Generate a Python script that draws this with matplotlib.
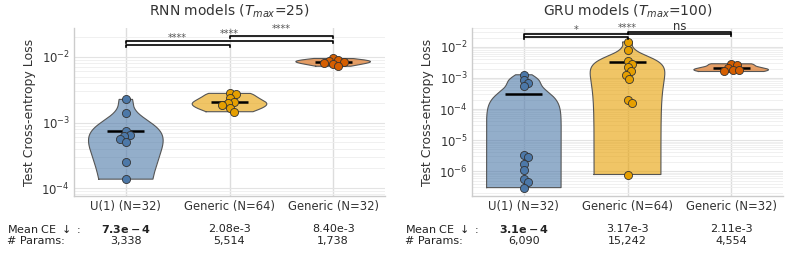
import numpy as np
import matplotlib
matplotlib.use("Agg")
import matplotlib.pyplot as plt
from matplotlib.ticker import LogLocator, NullFormatter

# ---------------- data ----------------
categories = ["U(1) (N=32)", "Generic (N=64)", "Generic (N=32)"]
colors = ["#4C78A8", "#E69F00", "#D55E00"]

rnn_u1 = [2.25e-3, 1.41e-3, 7.35e-4, 6.46e-4, 6.24e-4, 5.56e-4, 5.01e-4, 2.48e-4, 1.37e-4]
rnn_gen64 = [2.78e-3, 2.68e-3, 2.33e-3, 2.07e-3, 1.96e-3, 1.85e-3, 1.64e-3, 1.46e-3]
rnn_gen32 = [9.46e-3, 8.9e-3, 8.7e-3, 8.4e-3, 8.1e-3, 7.75e-3, 7.2e-3]
rnn_mean = [7.3e-4, 2.08e-3, 8.40e-3]
rnn_mean_labels = [r"$\mathbf{7.3e-4}$", "2.08e-3", "8.40e-3"]
rnn_params = ["3,338", "5,514", "1,738"]
rnn_sig = [(0, 1, "****"), (0, 2, "****"), (1, 2, "****")]

gru_u1 = [1.27e-3, 8.75e-4, 7.15e-4, 5.6e-4,
          3.27e-6, 2.88e-6, 1.76e-6, 1.13e-6, 5.47e-7, 4.47e-7, 2.95e-7]
gru_gen64 = [1.45e-2, 8.2e-3, 3.6e-3, 2.82e-3, 2.25e-3, 1.62e-3, 1.27e-3,
             9.6e-4, 1.97e-4, 1.55e-4, 7.8e-7]
gru_gen32 = [2.88e-3, 2.67e-3, 2.09e-3, 1.84e-3, 1.75e-3, 1.62e-3]
gru_mean = [3.1e-4, 3.17e-3, 2.11e-3]
gru_mean_labels = [r"$\mathbf{3.1e-4}$", "3.17e-3", "2.11e-3"]
gru_params = ["6,090", "15,242", "4,554"]
gru_sig = [(0, 1, "*"), (0, 2, "****"), (1, 2, "ns")]

FS = 8.4
TFS = 8.0
plt.rcParams['font.family'] = ['DejaVu Sans']

fig = plt.figure(figsize=(7.9, 2.62), dpi=100)


def kde_linear(vals, grid):
    vals = np.asarray(vals)
    n = len(vals)
    bw = np.std(vals, ddof=1) * n ** (-1 / 5)
    d = (grid[:, None] - vals[None, :]) / bw
    return np.exp(-0.5 * d ** 2).sum(axis=1)


def panel(ax, groups, means, mean_labels, params, sig, title, ylim, brackets):
    ax.set_yscale('log')
    ax.set_xlim(-0.5, 2.5)
    ax.set_ylim(*ylim)
    ax.set_facecolor('white')
    for s in ['top', 'right']:
        ax.spines[s].set_visible(False)
    for s in ['left', 'bottom']:
        ax.spines[s].set_color('#cccccc')
        ax.spines[s].set_linewidth(1.0)
    ax.yaxis.set_major_locator(LogLocator(base=10, numticks=20))
    ax.yaxis.set_minor_locator(LogLocator(base=10, subs=np.arange(2, 10), numticks=20))
    ax.yaxis.set_minor_formatter(NullFormatter())
    ax.grid(True, which='major', axis='y', color='#e3e3e3', lw=0.8, zorder=0)
    ax.grid(True, which='minor', axis='y', color='#eeeeee', lw=0.6, zorder=0)
    ax.grid(True, which='major', axis='x', color='#dddddd', lw=1.0, zorder=0)
    ax.set_axisbelow(True)
    ax.set_xticks(range(len(categories)))
    ax.set_xticklabels(categories, fontsize=FS, color='#333333')
    ax.tick_params(axis='both', length=0, labelsize=FS, colors='#333333', pad=3)
    ax.tick_params(axis='y', which='minor', length=0)
    ax.set_ylabel("Test Cross-entropy Loss", fontsize=9, color='#333333')
    ax.set_title(title, fontsize=10, color='#333333', pad=9)

    halfw = 0.36
    for i, (vals, col) in enumerate(zip(groups, colors)):
        vals = np.asarray(vals)
        grid = np.geomspace(vals.min(), vals.max(), 300)
        dens = kde_linear(vals, grid)
        w = dens / dens.max() * halfw
        ax.fill_betweenx(grid, i - w, i + w, facecolor=col, alpha=0.6,
                         edgecolor='none', zorder=2)
        xs = np.concatenate([i - w, (i + w)[::-1], [i - w[0]]])
        ys = np.concatenate([grid, grid[::-1], [grid[0]]])
        ax.plot(xs, ys, color='#555555', lw=0.8, zorder=2)
        ax.plot([i - 0.18, i + 0.18], [means[i], means[i]], color='black',
                lw=1.8, zorder=3, solid_capstyle='butt')

        # simple beeswarm in display space
        ypx = ax.transData.transform(np.column_stack([np.full(len(vals), i), vals]))[:, 1]
        x0px = ax.transData.transform((i, vals[0]))[0]
        x1px = ax.transData.transform((i + 1, vals[0]))[0]
        unit = x1px - x0px
        diam = 6.0
        order = np.argsort(-ypx)
        placed = []
        offs = np.zeros(len(vals))
        for k in order:
            cands = [0]
            for m in range(1, 20):
                cands += [m * 1.5, -m * 1.5]
            for c in cands:
                ok = all((c - ox) ** 2 + (ypx[k] - oy) ** 2 >= (diam * 0.8) ** 2
                         for ox, oy in placed)
                if ok:
                    offs[k] = c
                    placed.append((c, ypx[k]))
                    break
        ax.scatter(i + offs / unit, vals, s=34, color=col, edgecolor='#333333',
                   linewidth=0.6, zorder=4)

    tr = ax.get_xaxis_transform()
    for (a, b, lab), (yl, yleg, yt) in zip(sig, brackets):
        ax.plot([a, a, b, b], [yleg, yl, yl, yleg], color='black', lw=1.2,
                transform=tr, clip_on=False, zorder=5)
        ax.text((a + b) / 2, yt, lab, ha='center', va='center', transform=tr,
                fontsize=7 if lab != 'ns' else 8.4,
                color='#555555' if lab != 'ns' else '#333333', clip_on=False)

    # bottom table
    r1, r2 = -0.196, -0.267
    ax.text(-0.215, r1, r"Mean CE $\downarrow$ :", transform=ax.transAxes,
            ha='left', va='center', fontsize=TFS, color='#222222')
    ax.text(-0.215, r2, "# Params:", transform=ax.transAxes,
            ha='left', va='center', fontsize=TFS, color='#222222')
    for i in range(len(categories)):
        ax.text(i, r1, mean_labels[i], transform=tr, ha='center', va='center',
                fontsize=TFS, color='#222222')
        ax.text(i, r2, params[i], transform=tr, ha='center', va='center',
                fontsize=TFS, color='#222222')


ax1 = fig.add_axes([74 / 790, 66 / 262, 311 / 790, 168 / 262])
ax2 = fig.add_axes([472 / 790, 66 / 262, 311 / 790, 168 / 262])

panel(ax1, [rnn_u1, rnn_gen64, rnn_gen32], rnn_mean, rnn_mean_labels, rnn_params,
      rnn_sig, r"RNN models ($T_{max}$=25)", (10 ** -4.12, 10 ** -1.56),
      [(0.897, 0.886, 0.940), (0.923, 0.909, 0.964), (0.952, 0.939, 0.996)])
panel(ax2, [gru_u1, gru_gen64, gru_gen32], gru_mean, gru_mean_labels, gru_params,
      gru_sig, r"GRU models ($T_{max}$=100)", (10 ** -6.8, 10 ** -1.39),
      [(0.948, 0.9375, 0.988), (0.963, 0.950, 1.002), (0.976, 0.964, 1.006)])

fig.savefig("out.png", dpi=100, facecolor='white')
